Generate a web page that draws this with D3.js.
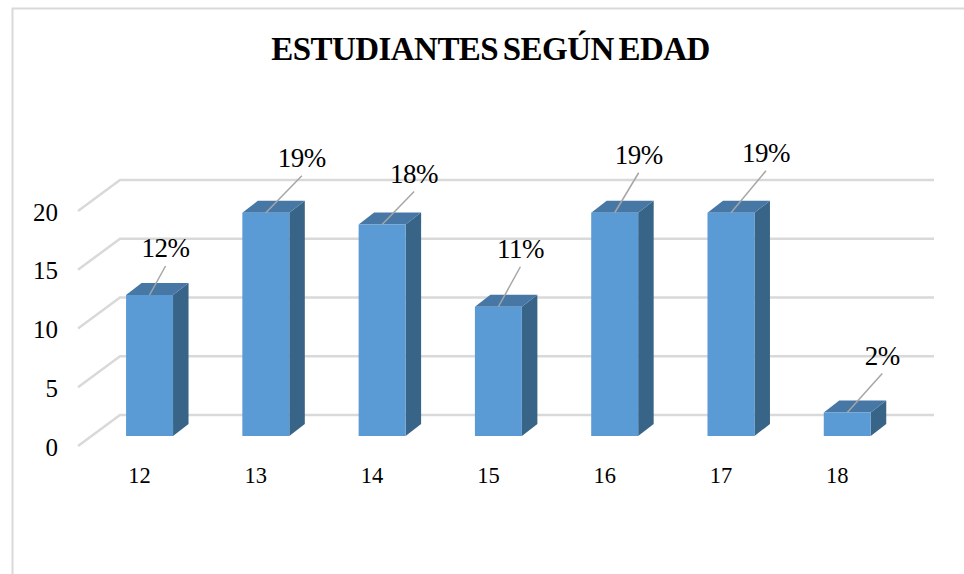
<!DOCTYPE html>
<html>
<head>
<meta charset="utf-8">
<script src="https://cdn.jsdelivr.net/npm/d3@7"></script>
<style>
  html, body { margin: 0; padding: 0; background: #fff; }
  svg { display: block; }
  text { font-family: "Liberation Serif", serif; fill: #000; }
</style>
</head>
<body>
<div class="chart"></div>
<script>
// Configuration
var width = 964;
var height = 574;

// data
var ages = ["12", "13", "14", "15", "16", "17", "18"];
var students = [12, 19, 18, 11, 19, 19, 2];
var percents = ["12%", "19%", "18%", "11%", "19%", "19%", "2%"];
var yTicks = [0, 5, 10, 15, 20];

// where each data label was dragged to, relative to the top of the bar
var labelDx = [16, 36, 32, 22, 24, 35, 35];
var labelDy = [-29, -37, -33, -40, -40, -42, -39];

var svg = d3.select(".chart").append("svg")
    .attr("width", width)
    .attr("height", height);

// scales
var y = d3.scaleLinear().domain([0, 20]).range([436, 201]);
var x = d3.scaleBand().domain(ages).range([91.4, 905.4])
    .paddingInner(0.596).paddingOuter(0.298);

// 3d offsets
var barDx = 15.5, barDy = -12;
var wallLeft = 78, wallRight = 934;
var wallDx = 42, wallDy = -31;

// chart border, open on the right and at the bottom
svg.append("path")
    .attr("d", "M12.5,574V8.5H964")
    .attr("fill", "none")
    .attr("stroke", "#d9d9d9")
    .attr("stroke-width", 2);

// title
svg.append("text")
    .attr("x", 490.5)
    .attr("y", 60)
    .attr("text-anchor", "middle")
    .attr("font-size", 33)
    .attr("font-weight", "bold")
    .attr("letter-spacing", -0.55)
    .attr("word-spacing", -3)
    .text("ESTUDIANTES SEGÚN EDAD");

// gridlines
var grid = svg.append("g").selectAll("path")
    .data(yTicks)
    .enter().append("path")
    .attr("d", function(d) {
      var front = y(d) + 10;
      return "M" + wallLeft + "," + front + "L" + (wallLeft + wallDx) + "," + (front + wallDy) + "H" + wallRight;
    })
    .attr("fill", "none")
    .attr("stroke", "#d9d9d9")
    .attr("stroke-width", 2.5);

// y labels
svg.append("g").selectAll("text")
    .data(yTicks)
    .enter().append("text")
    .attr("x", 58)
    .attr("y", function(d) { return y(d) + 19.5; })
    .attr("text-anchor", "end")
    .attr("font-size", 25)
    .text(function(d) { return d; });

// x labels
svg.append("g").selectAll("text")
    .data(ages)
    .enter().append("text")
    .attr("x", function(d) { return x(d) + 13.5; })
    .attr("y", 483)
    .attr("text-anchor", "middle")
    .attr("font-size", 22.5)
    .text(function(d) { return d; });

// bars
var bars = svg.append("g").selectAll("g")
    .data(students)
    .enter().append("g")
    .attr("transform", function(d, i) { return "translate(" + x(ages[i]) + ",0)"; });

var bw = x.bandwidth();

// side
bars.append("path")
    .attr("d", function(d) {
      return "M" + bw + "," + y(d) + "l" + barDx + "," + barDy + "V" + (y(0) + barDy) + "l" + (-barDx) + "," + (-barDy) + "Z";
    })
    .attr("fill", "#386488");

// top
bars.append("path")
    .attr("d", function(d) {
      return "M0," + y(d) + "l" + barDx + "," + barDy + "h" + bw + "l" + (-barDx) + "," + (-barDy) + "Z";
    })
    .attr("fill", "#4677a5");

// front
bars.append("rect")
    .attr("width", bw)
    .attr("y", function(d) { return y(d); })
    .attr("height", function(d) { return y(0) - y(d); })
    .attr("fill", "#5b9bd5");

// leader lines
bars.append("line")
    .attr("x1", bw / 2)
    .attr("y1", function(d) { return y(d); })
    .attr("x2", function(d, i) { return bw / 2 + labelDx[i]; })
    .attr("y2", function(d, i) { return y(d) + labelDy[i]; })
    .attr("stroke", "#a6a6a6")
    .attr("stroke-width", 1.5);

// data labels
bars.append("text")
    .attr("x", function(d, i) { return bw / 2 + labelDx[i]; })
    .attr("y", function(d, i) { return y(d) + labelDy[i] - 9; })
    .attr("text-anchor", "middle")
    .attr("font-size", 27)
    .attr("letter-spacing", -0.5)
    .text(function(d, i) { return percents[i]; });
</script>
</body>
</html>
